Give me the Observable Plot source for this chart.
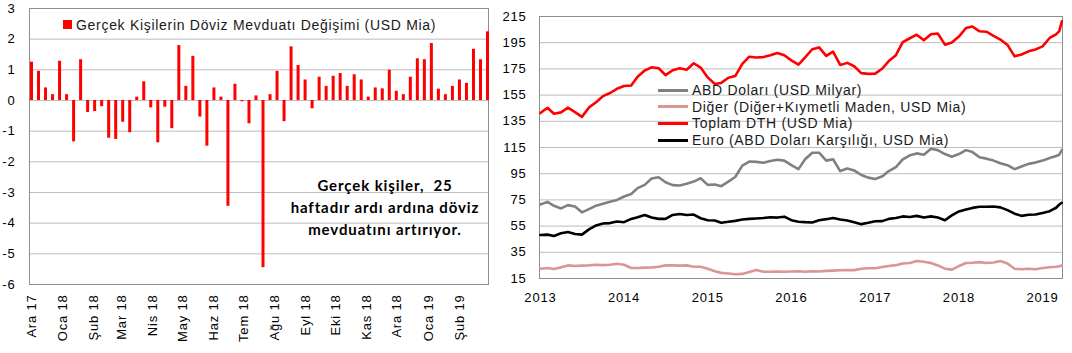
<!DOCTYPE html>
<html><head><meta charset="utf-8">
<script src="https://cdn.jsdelivr.net/npm/d3@7"></script>
<script src="https://cdn.jsdelivr.net/npm/@observablehq/plot@0.6"></script>
<style>
body{margin:0;background:#fff;}
#wrap{position:relative;width:1072px;height:353px;display:flex;font-family:"Liberation Sans",Arial,sans-serif;}
#left,#right{position:relative;height:353px;}
#left{width:500px}#right{width:572px}
.leg{position:absolute;font-size:14px;letter-spacing:0.7px;color:#1a1a1a;white-space:nowrap;line-height:16px}
.sw{position:absolute}
.note{position:absolute;font-family:Lato,sans-serif;font-weight:700;font-size:15px;letter-spacing:0.9px;line-height:22px;text-align:center;white-space:pre;color:#000}
</style></head><body>
<div id="wrap"><div id="left"></div><div id="right"></div></div>
<script>
// ---------- Left panel data (weekly change, USD bn) ----------
const weekDates = ["2017-12-01","2017-12-08","2017-12-15","2017-12-22","2017-12-29",
"2018-01-05","2018-01-12","2018-01-19","2018-01-26","2018-02-02","2018-02-09","2018-02-16","2018-02-23",
"2018-03-02","2018-03-09","2018-03-16","2018-03-23","2018-03-30","2018-04-06","2018-04-13","2018-04-20","2018-04-27",
"2018-05-04","2018-05-11","2018-05-18","2018-05-25","2018-06-01","2018-06-08","2018-06-15","2018-06-22","2018-06-29",
"2018-07-06","2018-07-13","2018-07-20","2018-07-27","2018-08-03","2018-08-10","2018-08-17","2018-08-24","2018-08-31",
"2018-09-07","2018-09-14","2018-09-21","2018-09-28","2018-10-05","2018-10-12","2018-10-19","2018-10-26",
"2018-11-02","2018-11-09","2018-11-16","2018-11-23","2018-11-30","2018-12-07","2018-12-14","2018-12-21","2018-12-28",
"2019-01-04","2019-01-11","2019-01-18","2019-01-25","2019-02-01","2019-02-08","2019-02-15","2019-02-22","2019-03-01"];
const weekChange = [1.25,0.95,0.41,0.19,1.28,0.19,-1.35,1.33,-0.39,-0.36,
-0.2,-1.23,-1.27,-0.71,-1.05,0.11,0.61,-0.24,-1.38,-0.22,
-0.92,1.79,0.46,1.44,-0.54,-1.49,0.41,0.11,-3.45,0.53,
-0.04,-0.76,0.15,-5.45,0.19,0.95,-0.69,1.75,1.14,0.67,
-0.27,0.76,0.46,0.79,0.88,0.46,0.84,0.67,0.11,0.41,
0.38,0.99,0.30,0.19,0.76,1.36,1.33,1.86,0.37,0.19,
0.46,0.67,0.56,1.67,1.33,2.24];
const leftYTicks = [-6,-5,-4,-3,-2,-1,0,1,2,3];
const monthTicks = ["2017-12-01","2018-01-01","2018-02-01","2018-03-01","2018-04-01","2018-05-01","2018-06-01","2018-07-01","2018-08-01","2018-09-01","2018-10-01","2018-11-01","2018-12-01","2019-01-01","2019-02-01"];
const monthLabels = ["Ara 17","Oca 18","Şub 18","Mar 18","Nis 18","May 18","Haz 18","Tem 18","Ağu 18","Eyl 18","Eki 18","Kas 18","Ara 18","Oca 19","Şub 19"];
const leftLegend = "Gerçek Kişilerin Döviz Mevduatı Değişimi (USD Mia)";
const noteText = "Gerçek kişiler,  25\nhaftadır ardı ardına döviz\nmevduatını artırıyor.";

// ---------- Right panel data (levels, USD bn) ----------
const dates = ["2013-01","2013-02","2013-03","2013-04","2013-05","2013-06","2013-07","2013-08","2013-09","2013-10","2013-11","2013-12",
"2014-01","2014-02","2014-03","2014-04","2014-05","2014-06","2014-07","2014-08","2014-09","2014-10","2014-11","2014-12",
"2015-01","2015-02","2015-03","2015-04","2015-05","2015-06","2015-07","2015-08","2015-09","2015-10","2015-11","2015-12",
"2016-01","2016-02","2016-03","2016-04","2016-05","2016-06","2016-07","2016-08","2016-09","2016-10","2016-11","2016-12",
"2017-01","2017-02","2017-03","2017-04","2017-05","2017-06","2017-07","2017-08","2017-09","2017-10","2017-11","2017-12",
"2018-01","2018-02","2018-03","2018-04","2018-05","2018-06","2018-07","2018-08","2018-09","2018-10","2018-11","2018-12",
"2019-01","2019-02","2019-03","2019-03-15","2019-03-26"];
const toplam = [141.3,145.3,140.8,141.8,145.4,142,138.4,145.6,149.5,154.2,156.6,159.8,
162,162.3,169,173.8,176.2,175.5,170.2,174,175.5,174.3,179.3,176,
168.5,163.5,164.3,168.2,169.5,178.9,184.3,183.7,184,185.4,187.1,185.4,
181.5,178.2,183.8,190,191.4,185,188.2,178,179.6,177,171.8,171.2,
171.4,175.3,181,185.5,195.4,198.4,201.1,196.9,201.4,202,193.5,195.2,
199.7,206.2,207.4,203.7,203.4,200.3,197.4,193.3,184.6,186,188.4,189.8,
192.2,198.6,201.4,203.8,211.4];
const abdDolari = [71.5,73.5,70.5,68.5,71,70,65.5,68,70.6,72,73.5,75,
77.6,79.5,84,86.5,91.3,92.3,88.5,86.3,86,87.4,89,91.5,
86.5,86.7,85.5,89,92.5,101.2,104.3,104,103.3,104.7,105.7,105,
101.5,98.5,106,111,111,105,106,97,99,97.5,94,92,
91,93,97,100,106,109,110.5,109.5,114,113,110,108,
110,113,111.5,107.5,106.5,105,103,101.5,98.5,100.5,102.5,103.5,
105,107,108.5,109.5,113];
const euro = [48.2,48.5,47.5,49.5,50.5,49,48.5,52.5,55.5,57,57.3,58.5,
58,60.5,61.8,63.5,61.5,60.5,60.5,63.5,64.3,63.5,63.8,61,
59.5,59.3,57.5,58.3,59,60,60.5,60.8,61.2,61.8,61.5,62.2,
59.5,58.3,58,57.8,59.5,60.3,61.2,60,59.3,58,56.5,57.5,
58.7,58.8,60.5,61.2,62.4,61.9,62.8,61.5,62.4,61.5,59.5,63.2,
66.2,67.6,68.9,69.8,69.8,70,69.3,67.2,64.5,62.8,63.7,63.9,
65,66.4,69,71.5,72.8];
const diger = [22.5,23,22.2,23.5,25,24.5,24.8,25,25.5,25.2,25.5,26.2,
25.5,23,23,23.3,23.4,24,25,25,24.8,25,24,24,
22.5,20.5,19.3,18.8,18.2,18.5,20,21.5,20.2,20.1,20.4,20.2,
20.3,20.5,20.2,20.5,20.4,20.8,21,21.3,21.5,21.4,22.5,22.8,
22.8,23.8,24.6,25.2,26.5,26.8,28.3,27.8,26.8,25,22.5,21.8,
24.5,26.8,27,27.5,26.8,27.2,28.3,26.5,22.5,22,22.5,22,
23,23.6,24,24.4,25];
const seriesNames = ["ABD Doları (USD Milyar)","Diğer (Diğer+Kıymetli Maden, USD Mia)","Toplam DTH (USD Mia)","Euro (ABD Doları Karşılığı, USD Mia)"];
const seriesColors = ["#808080","#d99694","#ff0000","#000000"];
const rightYTicks = [15,35,55,75,95,115,135,155,175,195,215];
const yearTicks = ["2013-01-01","2014-01-01","2015-01-01","2016-01-01","2017-01-01","2018-01-01","2019-01-01"];
const yearLabels = ["2013","2014","2015","2016","2017","2018","2019"];

// ---------- build ----------
const baseStyle = {fontFamily:'"Liberation Sans",Arial,sans-serif', fontSize:"13px", letterSpacing:"0.8px", color:"#000", background:"#fff", overflow:"visible"};

const bars = weekDates.map((d,i)=>({date:new Date(d), value:weekChange[i]}));
const mLabel = new Map(monthTicks.map((d,i)=>[+new Date(d), monthLabels[i]]));
const left = Plot.plot({
  width:500, height:353, marginLeft:29, marginRight:12, marginTop:8, marginBottom:69,
  insetLeft:2, insetRight:1,
  style: baseStyle,
  x:{type:"utc", label:null, domain:[new Date(weekDates[0]), new Date(weekDates[weekDates.length-1])]},
  y:{domain:[-6,3], label:null},
  marks:[
    Plot.gridY(leftYTicks, {stroke:"#bdbdbd", strokeOpacity:1}),
    Plot.frame({stroke:"#8e8e8e"}),
    Plot.ruleX(bars, {x:"date", y1:0, y2:"value", stroke:"#ff0000", strokeWidth:3}),
    Plot.axisY(leftYTicks, {label:null, tickSize:0, tickPadding:14, tickFormat:d=>String(d)}),
    Plot.axisX(monthTicks.map(d=>new Date(d)), {label:null, tickSize:0, tickPadding:10, tickRotate:-90, tickFormat:d=>mLabel.get(+d)})
  ]
});
const L = document.getElementById("left");
L.appendChild(left);
const sq = document.createElement("div");
sq.className="sw"; Object.assign(sq.style,{left:"63px",top:"20px",width:"9px",height:"9px",background:"#ff0000"});
L.appendChild(sq);
const lt = document.createElement("div");
lt.className="leg"; lt.textContent = leftLegend; Object.assign(lt.style,{left:"76px",top:"16.5px"});
L.appendChild(lt);
const note = document.createElement("div");
note.className="note"; note.textContent = noteText; Object.assign(note.style,{left:"275px",width:"220px",top:"174px"});
L.appendChild(note);

const rows = [];
const cols = [abdDolari, diger, toplam, euro];
cols.forEach((arr,si)=>arr.forEach((v,i)=>rows.push({date:new Date(dates[i]), series:seriesNames[si], value:v})));
const yLabel = new Map(yearTicks.map((d,i)=>[+new Date(d), yearLabels[i]]));
const right = Plot.plot({
  width:572, height:353, marginLeft:39, marginRight:10, marginTop:16, marginBottom:75,
  style: baseStyle,
  x:{type:"utc", label:null, domain:[new Date("2012-12-28"), new Date("2019-03-29")]},
  y:{domain:[15,215], label:null},
  color:{domain:seriesNames, range:seriesColors},
  marks:[
    Plot.gridY(rightYTicks, {stroke:"#bdbdbd", strokeOpacity:1}),
    Plot.frame({stroke:"#8e8e8e"}),
    Plot.line(rows, {x:"date", y:"value", z:"series", stroke:"series", strokeWidth:2.6, strokeLinejoin:"round"}),
    Plot.axisY(rightYTicks, {label:null, tickSize:0, tickPadding:13, tickFormat:d=>String(d)}),
    Plot.axisX(yearTicks.map(d=>new Date(d)), {label:null, tickSize:0, tickPadding:14, tickFormat:d=>yLabel.get(+d)})
  ]
});
const R = document.getElementById("right");
R.appendChild(right);
seriesNames.forEach((name,i)=>{
  const cy = 90 + i*16.67;
  const ln = document.createElement("div");
  ln.className="sw"; Object.assign(ln.style,{left:"158px",top:(cy-1.5)+"px",width:"30px",height:"3px",background:seriesColors[i]});
  R.appendChild(ln);
  const tx = document.createElement("div");
  tx.className="leg"; tx.textContent=name; Object.assign(tx.style,{left:"192px",top:(cy-8)+"px"});
  R.appendChild(tx);
});
</script></body></html>
